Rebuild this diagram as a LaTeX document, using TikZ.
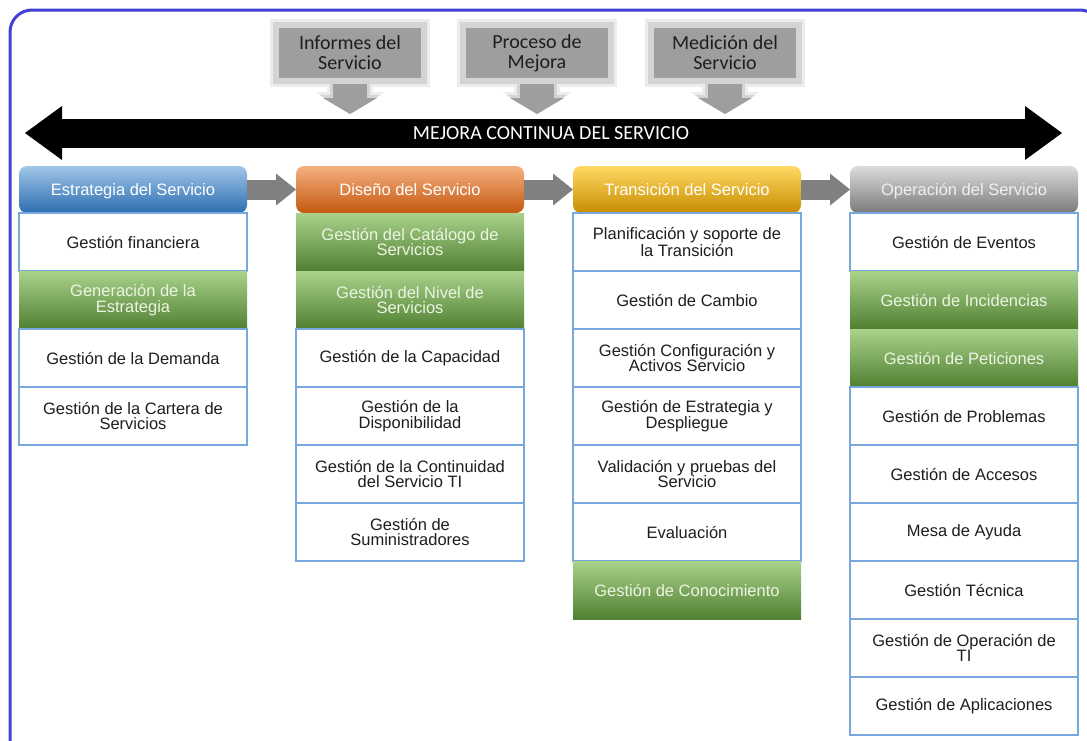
\documentclass[tikz,border=0pt]{standalone}
\usepackage{fontspec}
\setmainfont{Liberation Sans}
\newfontfamily\calfont{Carlito}
\usetikzlibrary{positioning,arrows.meta}

\definecolor{marco}{RGB}{66,66,212}
\definecolor{borde}{RGB}{118,168,222}
\definecolor{texto}{RGB}{30,30,30}
\definecolor{verdeA}{RGB}{170,210,140}
\definecolor{verdeB}{RGB}{80,128,50}
\definecolor{verdeT}{RGB}{236,244,226}
\definecolor{grisCaja}{RGB}{158,158,158}
\definecolor{grisHalo}{RGB}{212,212,212}
\definecolor{grisNiebla}{RGB}{236,236,236}
\definecolor{grisPaso}{RGB}{128,128,128}

\tikzset{
  fase/.style={rounded corners=8pt, minimum width=228pt, minimum height=47pt,
    inner sep=0pt, outer sep=0pt, text=white, text depth=0pt,
    font=\fontsize{16.5}{16}\selectfont},
  act/.style={draw=borde, line width=1.2pt, fill=white, minimum width=228pt,
    minimum height=58pt, inner sep=0pt, outer sep=0pt, align=center, text=texto,
    font=\fontsize{16.5}{15.5}\selectfont},
  actv/.style={act, draw=none, top color=verdeA, bottom color=verdeB, text=verdeT},
  fuente/.style={fill=grisCaja, draw=grisHalo, line width=6pt, minimum width=148pt,
    minimum height=56pt, align=center, text=texto, font=\calfont\fontsize{20}{20}\selectfont,
    preaction={draw=grisNiebla, line width=12pt}},
  niebla/.style={draw=grisNiebla, line width=46pt, -{Triangle[width=68pt,length=22pt,line width=0pt]}},
  halo/.style={draw=grisHalo, line width=40pt, -{Triangle[width=61pt,length=19pt,line width=0pt]}},
  baja/.style={draw=grisCaja, line width=34pt, -{Triangle[width=54pt,length=16pt,line width=0pt]}},
  paso/.style={draw=grisPaso, line width=20pt, -{Triangle[width=32pt,length=20pt,line width=0pt]}}
}

\begin{document}
\begin{tikzpicture}[x=1pt, y=-1pt]
  %%%%% START %%%%%
  \useasboundingbox (0,0) rectangle (1087,740);
  \clip (0,0) rectangle (1087,740);
  \draw[marco, line width=3pt, rounded corners=22pt] (10,10) rectangle (1102,768);

  % fuentes de mejora
  \node[fuente] (inf) at (350,53) {Informes del\\Servicio};
  \node[fuente] (pro) at (537,53) {Proceso de\\Mejora};
  \node[fuente] (med) at (725,53) {Medición del\\Servicio};
  \coordinate (tope) at (0,114);
  \foreach \f in {inf,pro,med}
    \draw[niebla] (\f.south) -- (\f.south |- tope);
  \foreach \f in {inf,pro,med}
    \draw[halo] (\f.south) -- (\f.south |- tope);
  \foreach \f in {inf,pro,med}
    \draw[baja] (\f.south) -- (\f.south |- tope);

  % flecha de mejora continua
  \coordinate (mcI) at (25,133);
  \coordinate (mcD) at (1062,133);
  \draw[black, line width=29pt, {Triangle[width=54pt,length=37pt,line width=0pt]}-{Triangle[width=54pt,length=37pt,line width=0pt]}] (mcI) -- (mcD);
  \node[text=white, font=\calfont\fontsize{20}{20}\selectfont] (mc) at (551,133) {MEJORA CONTINUA DEL SERVICIO};

  % estrategia
  \node[fase, top color={rgb,255:red,160;green,198;blue,232}, bottom color={rgb,255:red,44;green,110;blue,176}] (h1) at (133,189.5) {Estrategia del Servicio};
  \node[act, below=0pt of h1] (e1) {Gestión financiera};
  \node[actv, below=0pt of e1] (e2) {Generación de la\\Estrategia};
  \node[act, below=0pt of e2] (e3) {Gestión de la Demanda};
  \node[act, below=0pt of e3] (e4) {Gestión de la Cartera de\\Servicios};

  % diseño
  \node[fase, right=49pt of h1, top color={rgb,255:red,245;green,176;blue,128}, bottom color={rgb,255:red,196;green,88;blue,16}] (h2) {Diseño del Servicio};
  \node[actv, below=0pt of h2] (d1) {Gestión del Catálogo de\\Servicios};
  \node[actv, below=0pt of d1] (d2) {Gestión del Nivel de\\Servicios};
  \node[act, below=0pt of d2] (d3) {Gestión de la Capacidad};
  \node[act, below=0pt of d3] (d4) {Gestión de la\\Disponibilidad};
  \node[act, below=0pt of d4] (d5) {Gestión de la Continuidad\\del Servicio TI};
  \node[act, below=0pt of d5] (d6) {Gestión de\\Suministradores};

  % transición
  \node[fase, right=49pt of h2, top color={rgb,255:red,255;green,218;blue,100}, bottom color={rgb,255:red,200;green,140;blue,0}] (h3) {Transición del Servicio};
  \node[act, below=0pt of h3] (t1) {Planificación y soporte de\\la Transición};
  \node[act, below=0pt of t1] (t2) {Gestión de Cambio};
  \node[act, below=0pt of t2] (t3) {Gestión Configuración y\\Activos Servicio};
  \node[act, below=0pt of t3] (t4) {Gestión de Estrategia y\\Despliegue};
  \node[act, below=0pt of t4] (t5) {Validación y pruebas del\\Servicio};
  \node[act, below=0pt of t5] (t6) {Evaluación};
  \node[actv, below=0pt of t6] (t7) {Gestión de Conocimiento};

  % operación
  \node[fase, right=49pt of h3, text={rgb,255:red,240;green,240;blue,240}, top color={rgb,255:red,220;green,220;blue,220}, bottom color={rgb,255:red,122;green,122;blue,122}] (h4) {Operación del Servicio};
  \node[act, below=0pt of h4] (o1) {Gestión de Eventos};
  \node[actv, below=0pt of o1] (o2) {Gestión de Incidencias};
  \node[actv, below=0pt of o2] (o3) {Gestión de Peticiones};
  \node[act, below=0pt of o3] (o4) {Gestión de Problemas};
  \node[act, below=0pt of o4] (o5) {Gestión de Accesos};
  \node[act, below=0pt of o5] (o6) {Mesa de Ayuda};
  \node[act, below=0pt of o6] (o7) {Gestión Técnica};
  \node[act, below=0pt of o7] (o8) {Gestión de Operación de\\TI};
  \node[act, below=0pt of o8] (o9) {Gestión de Aplicaciones};

  % paso entre fases
  \draw[paso] (h1.east) -- (h2.west);
  \draw[paso] (h2.east) -- (h3.west);
  \draw[paso] (h3.east) -- (h4.west);
  %%%%% END %%%%%
\end{tikzpicture}
\end{document}
